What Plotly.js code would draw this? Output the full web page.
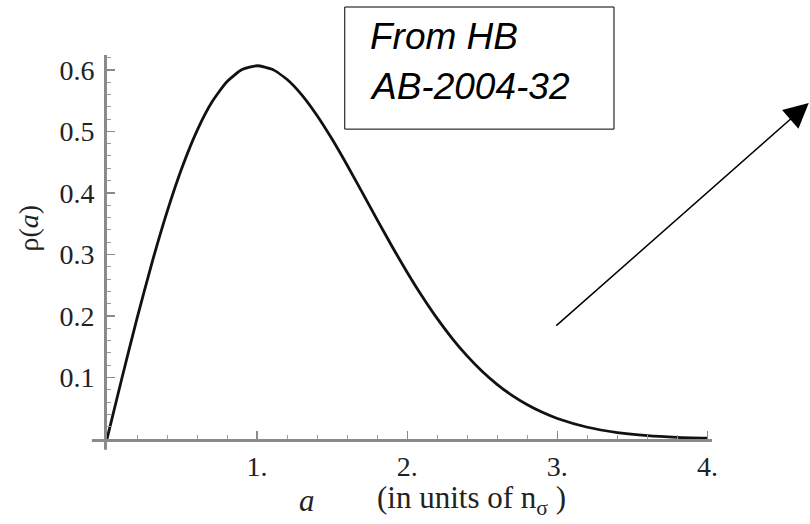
<!DOCTYPE html>
<html>
<head>
<meta charset="utf-8">
<script src="https://cdn.plot.ly/plotly-3.0.1.min.js"></script>
<style>html,body{margin:0;padding:0;background:#fff;}#chart{width:810px;height:524px;}</style>
</head>
<body>
<div id="chart"></div>
<script>
// Values
const aValues = [0, 0.1, 0.2, 0.3, 0.4, 0.5, 0.6, 0.7, 0.8, 0.9, 1.0, 1.1, 1.2, 1.3, 1.4, 1.5, 1.6, 1.7, 1.8, 1.9, 2.0, 2.1, 2.2, 2.3, 2.4, 2.5, 2.6, 2.7, 2.8, 2.9, 3.0, 3.2, 3.4, 3.6, 3.8, 4.0];
const rhoValues = [0, 0.0995, 0.196, 0.2868, 0.3692, 0.4412, 0.5012, 0.5479, 0.5809, 0.6003, 0.6065, 0.6007, 0.5841, 0.5585, 0.5254, 0.487, 0.4448, 0.4007, 0.3562, 0.3125, 0.2707, 0.2316, 0.1956, 0.1633, 0.1347, 0.1098, 0.0885, 0.0705, 0.0556, 0.0433, 0.0333, 0.0191, 0.0105, 0.0055, 0.0028, 0.0013];
const xTickVals = [1, 2, 3, 4];
const xTickText = ['1.', '2.', '3.', '4.'];
const yTickVals = [0.1, 0.2, 0.3, 0.4, 0.5, 0.6];
const yTickText = ['0.1', '0.2', '0.3', '0.4', '0.5', '0.6'];
const noteLines = ['From HB', 'AB-2004-32'];

const serif = 'Liberation Serif, Times New Roman, serif';
const sans = 'Liberation Sans, Arial, sans-serif';
const axisGray = '#8a8a8a';

const trace = {
  x: aValues, y: rhoValues, type: 'scatter', mode: 'lines',
  line: {color: '#111', width: 2.8, shape: 'spline', smoothing: 0.6},
  cliponaxis: false, hoverinfo: 'skip'
};

const axisCommon = {
  showline: true, linecolor: axisGray, linewidth: 3,
  ticks: 'inside', ticklen: 8, tickwidth: 1.5, tickcolor: axisGray,
  showgrid: false, zeroline: false, fixedrange: true,
  tickfont: {family: serif, size: 28, color: '#222'}
};

const layout = {
  width: 810, height: 524,
  margin: {l: 107, r: 98, t: 55, b: 85},
  paper_bgcolor: '#fff', plot_bgcolor: '#fff',
  showlegend: false,
  xaxis: Object.assign({}, axisCommon, {
    range: [0, 4.03], tickmode: 'array', tickvals: xTickVals, ticktext: xTickText,
    minor: {dtick: 0.2, tick0: 0, ticks: 'inside', ticklen: 4, tickwidth: 1, tickcolor: '#9a9a9a'},
    ticklabelstandoff: 0
  }),
  yaxis: Object.assign({}, axisCommon, {
    range: [0, 0.624], tickmode: 'array', tickvals: yTickVals, ticktext: yTickText,
    minor: {dtick: 0.02, tick0: 0, ticks: 'inside', ticklen: 4, tickwidth: 1, tickcolor: '#9a9a9a'},
    ticklabelstandoff: 4
  }),
  shapes: [
    {type: 'line', xref: 'paper', yref: 'paper', x0: -0.025, x1: 0, y0: -0.004, y1: -0.004, line: {color: axisGray, width: 3}},
    {type: 'line', xref: 'paper', yref: 'paper', x0: -0.0025, x1: -0.0025, y0: -0.028, y1: 0, line: {color: axisGray, width: 3}},
    {type: 'rect', xref: 'paper', yref: 'paper', x0: 0.393, x1: 0.838, y0: 0.807, y1: 1.125, line: {color: '#000', width: 1}, fillcolor: 'rgba(0,0,0,0)'}
  ],
  annotations: [
    {xref: 'paper', yref: 'paper', x: -0.13, y: 0.549, xanchor: 'center', yanchor: 'middle', text: 'ρ(<i>a</i>)', textangle: -90, showarrow: false, font: {family: serif, size: 28, color: '#222'}},
    {xref: 'paper', yref: 'paper', x: 0.3306, y: -0.16, xanchor: 'center', yanchor: 'middle', text: '<i>a</i>', showarrow: false, font: {family: serif, size: 31, color: '#222'}},
    {xref: 'paper', yref: 'paper', x: 0.602, y: -0.16, xanchor: 'center', yanchor: 'middle', text: '(in units of n<sub>σ</sub> )', showarrow: false, font: {family: serif, size: 31, color: '#222'}},
    {xref: 'paper', yref: 'paper', x: 0.431, y: 1.047, xanchor: 'left', yanchor: 'middle', text: '<i>' + noteLines[0] + '</i>', showarrow: false, font: {family: sans, size: 37, color: '#000'}},
    {xref: 'paper', yref: 'paper', x: 0.431, y: 0.919, xanchor: 'left', yanchor: 'middle', text: '<i>' + noteLines[1] + '</i>', showarrow: false, font: {family: sans, size: 37, color: '#000'}},
    {xref: 'paper', yref: 'paper', x: 1.160, y: 0.875, ax: -254, ay: 224, text: '', showarrow: true, arrowhead: 2, arrowsize: 3.3, arrowwidth: 1.5, arrowcolor: '#000'}
  ]
};

Plotly.newPlot('chart', [trace], layout, {displayModeBar: false, staticPlot: true});
</script>
</body>
</html>
